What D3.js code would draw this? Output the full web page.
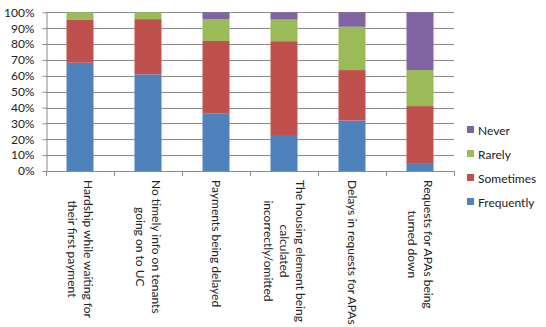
<!DOCTYPE html>
<html><head><meta charset="utf-8">
<script src="https://cdn.jsdelivr.net/npm/d3@7/dist/d3.min.js"></script>
<style>
body{margin:0;background:#fff;}
svg{display:block;font-family:Lato,"Open Sans",sans-serif;}
</style></head>
<body><svg id="c" width="546" height="327"></svg>
<script>
const categories = [
  ["Hardship while waiting for","their first payment"],
  ["No timely info on tenants","going on to UC"],
  ["Payments being delayed"],
  ["The housing element being","calculated","incorrectly/omitted"],
  ["Delays in requests for APAs"],
  ["Requests for APAs being","turned down"]
];
const seriesNames = ["Frequently","Sometimes","Rarely","Never"];
const frequently = [68.2, 60.9, 36.4, 22.7, 31.8, 4.5];
const sometimes  = [27.3, 34.8, 45.5, 59.1, 31.8, 36.4];
const rarely     = [4.5, 4.3, 13.6, 13.6, 27.3, 22.7];
const never      = [0, 0, 4.5, 4.5, 9.1, 36.4];
const colors = ["#4F81BD","#C0504D","#9BBB59","#8064A2"];
const yTicks = [0,10,20,30,40,50,60,70,80,90,100];

const svg = d3.select("#c");
const L = 46, R = 454, T = 12.3, B = 171;
const rows = categories.map((c,i)=>({i, Frequently:frequently[i], Sometimes:sometimes[i], Rarely:rarely[i], Never:never[i]}));
const stack = d3.stack().keys(seriesNames)(rows);
const x = d3.scaleBand().domain(d3.range(categories.length)).range([L,R]).paddingInner(0.603).paddingOuter(0.3015);
const xb = d3.scaleBand().domain(d3.range(categories.length)).range([L,R]).padding(0);
const y = d3.scaleLinear().domain([0,100]).range([B,T]);

// gridlines
svg.append("g").selectAll("line").data(yTicks.filter(d=>d>0)).join("line")
  .attr("x1",L).attr("x2",R).attr("y1",d=>Math.round(y(d))+0.5).attr("y2",d=>Math.round(y(d))+0.5)
  .attr("stroke","#8a8a8a").attr("stroke-width",1);

// bars
svg.append("g").selectAll("g").data(stack).join("g").attr("fill",(d,i)=>colors[i])
  .selectAll("rect").data(d=>d).join("rect")
  .attr("x",(d,i)=>x(i)).attr("width",x.bandwidth())
  .attr("y",d=>y(d[1])).attr("height",d=>y(d[0])-y(d[1]));

// y axis
const ya = svg.append("g").attr("transform",`translate(${L+0.5},0)`)
  .call(d3.axisLeft(y).tickValues(yTicks).tickFormat(d=>d+"%").tickSize(4).tickSizeOuter(0));
ya.select(".domain").attr("stroke","#8a8a8a");
ya.selectAll(".tick line").attr("stroke","#8a8a8a");
ya.selectAll(".tick text").attr("font-size",12).attr("fill","#222").attr("font-family","Lato").attr("x",-12);

// x axis line and ticks
const xg = svg.append("g");
xg.append("line").attr("x1",L).attr("x2",R).attr("y1",B+0.5).attr("y2",B+0.5).attr("stroke","#8a8a8a");
xg.selectAll("line.t").data(d3.range(categories.length+1)).join("line").attr("class","t")
  .attr("x1",i=>Math.round(L+i*xb.step())+0.5).attr("x2",i=>Math.round(L+i*xb.step())+0.5)
  .attr("y1",B).attr("y2",B+5).attr("stroke","#8a8a8a");

// category labels rotated 90deg clockwise
const lineH = 16;
categories.forEach((lines,i)=>{
  const cx = xb(i)+xb.bandwidth()/2;
  const g = svg.append("g").attr("transform",`translate(${cx},180) rotate(90)`);
  const n = lines.length;
  const texts = lines.map((t,k)=>g.append("text").text(t).attr("font-size",12).attr("fill","#222")
    .attr("text-anchor","middle").attr("dominant-baseline","central")
    .attr("y",(k-(n-1)/2)*lineH));
  const maxW = d3.max(texts,t=>t.node().getComputedTextLength());
  texts.forEach(t=>t.attr("x",maxW/2));
});

// legend
const legendY = [202,178,154,130];
const lg = svg.append("g");
seriesNames.forEach((s,i)=>{
  lg.append("rect").attr("x",467).attr("y",legendY[i]-4).attr("width",7).attr("height",7).attr("fill",colors[i]);
  lg.append("text").attr("x",478).attr("y",legendY[i]).attr("dominant-baseline","central")
    .attr("font-size",12).attr("fill","#222").text(s);
});
</script></body></html>
